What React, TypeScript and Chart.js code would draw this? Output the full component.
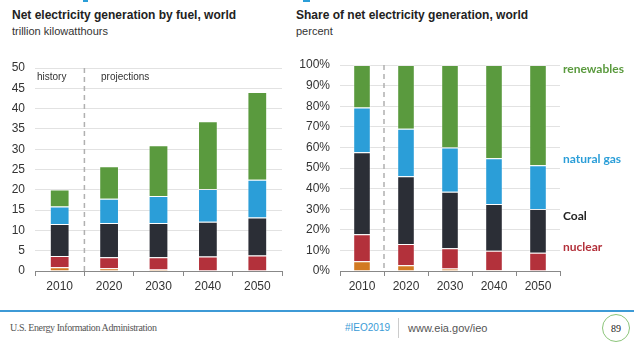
import React, { useEffect, useRef } from "react";
import { Chart, registerables } from "chart.js";

Chart.register(...registerables);

const years = ["2010", "2020", "2030", "2040", "2050"];
const seriesNames = ["liquids", "nuclear", "Coal", "natural gas", "renewables"];
const seriesColors = ["#d27a22", "#b3313b", "#2b2e36", "#2b9ed8", "#5a9a3e"];

// trillion kilowatthours
const liquidsTwh = [0.9, 0.7, 0.4, 0.15, 0.1];
const nuclearTwh = [2.8, 2.7, 3.0, 3.45, 3.7];
const coalTwh = [7.9, 8.4, 8.4, 8.5, 9.4];
const gasTwh = [4.3, 6.0, 6.7, 8.1, 9.3];
const renewTwh = [4.2, 8.0, 12.5, 16.7, 21.6];

// percent share
const liquidsPct = [4.7, 2.8, 1.2, 0.4, 0.2];
const nuclearPct = [13.1, 10.3, 9.8, 9.4, 8.7];
const coalPct = [39.8, 32.9, 27.5, 22.7, 21.2];
const gasPct = [21.8, 23.0, 21.4, 22.2, 21.2];
const renewPct = [20.6, 31.0, 40.1, 45.3, 48.7];

const leftTicks = [0, 5, 10, 15, 20, 25, 30, 35, 40, 45, 50];
const rightTicks = [0, 10, 20, 30, 40, 50, 60, 70, 80, 90, 100];

const dashedDivider = {
  id: "dashedDivider",
  beforeDatasetsDraw(chart: any) {
    const x = chart.scales.x;
    const area = chart.chartArea;
    const px = (x.getPixelForValue(0) + x.getPixelForValue(1)) / 2;
    const ctx = chart.ctx;
    ctx.save();
    ctx.strokeStyle = "#b0b0b0";
    ctx.lineWidth = 1.5;
    ctx.setLineDash([5, 4]);
    ctx.beginPath();
    ctx.moveTo(px, area.top);
    ctx.lineTo(px, area.bottom);
    ctx.stroke();
    ctx.restore();
  },
};

function makeConfig(
  data: number[][],
  max: number,
  tickVals: number[],
  yWidth: number,
  padding: any,
  fmt: (v: number) => string,
  xHeight: number
): any {
  return {
    type: "bar",
    data: {
      labels: years,
      datasets: data.map((d, i) => ({
        label: seriesNames[i],
        data: d,
        backgroundColor: seriesColors[i],
        borderColor: "rgba(255,255,255,0.35)",
        borderWidth: 1,
        barPercentage: 0.4,
        categoryPercentage: 1,
      })),
    },
    options: {
      responsive: false,
      animation: false,
      devicePixelRatio: 1,
      layout: { padding },
      plugins: { legend: { display: false }, tooltip: { enabled: false } },
      scales: {
        x: {
          stacked: true,
          grid: {
            display: true,
            drawOnChartArea: false,
            drawTicks: true,
            tickLength: 5,
            color: "#888",
            offset: true,
          },
          border: { display: true, color: "#888", width: 1 },
          ticks: {
            color: "#333",
            font: { family: "Liberation Sans, Arial, sans-serif", size: 12 },
            padding: 3,
          },
          afterFit(s: any) {
            s.height = xHeight;
          },
        },
        y: {
          stacked: true,
          min: 0,
          max,
          afterBuildTicks(s: any) {
            s.ticks = tickVals.map((v) => ({ value: v }));
          },
          grid: { color: "#e2e2e2", drawTicks: false, lineWidth: 1 },
          border: { display: false },
          ticks: {
            color: "#333",
            font: { family: "Liberation Sans, Arial, sans-serif", size: 12 },
            padding: 10,
            callback: (v: any) => fmt(Number(v)),
          },
          afterFit(s: any) {
            s.width = yWidth;
          },
        },
      },
    },
    plugins: [dashedDivider],
  };
}

function BarChart(props: {
  data: number[][];
  max: number;
  tickVals: number[];
  yWidth: number;
  padding: any;
  fmt: (v: number) => string;
  width: number;
  height: number;
  xHeight: number;
}) {
  const ref = useRef<HTMLCanvasElement | null>(null);
  useEffect(() => {
    if (!ref.current) return;
    const c = new Chart(
      ref.current,
      makeConfig(props.data, props.max, props.tickVals, props.yWidth, props.padding, props.fmt, props.xHeight)
    );
    return () => c.destroy();
  }, []);
  return (
    <canvas
      ref={ref}
      width={props.width}
      height={props.height}
      style={{ width: props.width, height: props.height, display: "block" }}
    />
  );
}

const sans = "'Liberation Sans', Arial, sans-serif";
const lato = "Lato, 'Open Sans', sans-serif";

export default function App() {
  const label = (text: string, top: number, color: string) => (
    <div
      style={{
        position: "absolute",
        left: 563,
        top: top - 8,
        fontFamily: lato,
        fontWeight: 700,
        fontSize: 12,
        lineHeight: "16px",
        color,
        whiteSpace: "nowrap",
      }}
    >
      {text}
    </div>
  );
  return (
    <div
      style={{
        position: "fixed",
        left: 0,
        top: 0,
        width: 640,
        height: 354,
        background: "#fff",
        overflow: "hidden",
        fontFamily: sans,
      }}
    >
      <div style={{ position: "absolute", left: 83, top: 0, width: 5, height: 2, background: "#2b9ed8" }} />
      <div style={{ position: "absolute", left: 303, top: 0, width: 7, height: 2, background: "#2b9ed8" }} />

      <div style={{ position: "absolute", left: 12, top: 7, fontSize: 12, fontWeight: 700, color: "#222", whiteSpace: "nowrap", lineHeight: "16px" }}>
        Net electricity generation by fuel, world
      </div>
      <div style={{ position: "absolute", left: 12, top: 23, fontSize: 11, color: "#333", whiteSpace: "nowrap", lineHeight: "16px" }}>
        trillion kilowatthours
      </div>
      <div style={{ position: "absolute", left: 296, top: 7, fontSize: 12, fontWeight: 700, color: "#222", whiteSpace: "nowrap", lineHeight: "16px" }}>
        Share of net electricity generation, world
      </div>
      <div style={{ position: "absolute", left: 296, top: 23, fontSize: 11, color: "#333", whiteSpace: "nowrap", lineHeight: "16px" }}>
        percent
      </div>

      <div style={{ position: "absolute", left: 0, top: 40 }}>
        <BarChart
          data={[liquidsTwh, nuclearTwh, coalTwh, gasTwh, renewTwh]}
          max={50}
          tickVals={leftTicks}
          yWidth={35}
          padding={{ left: 0, top: 28, right: 8, bottom: 0 }}
          fmt={(v) => String(v)}
          width={290}
          height={260}
          xHeight={29}
        />
      </div>
      <div style={{ position: "absolute", left: 37, top: 71, fontSize: 10, color: "#333", lineHeight: "12px" }}>history</div>
      <div style={{ position: "absolute", left: 101, top: 71, fontSize: 10, color: "#333", lineHeight: "12px" }}>projections</div>

      <div style={{ position: "absolute", left: 290, top: 40 }}>
        <BarChart
          data={[liquidsPct, nuclearPct, coalPct, gasPct, renewPct]}
          max={100}
          tickVals={rightTicks}
          yWidth={50}
          padding={{ left: 0, top: 25, right: 80, bottom: 0 }}
          fmt={(v) => v + "%"}
          width={350}
          height={260}
          xHeight={29}
        />
      </div>
      {label("renewables", 69, "#5a9a3e")}
      {label("natural gas", 159, "#2b9ed8")}
      {label("Coal", 216, "#222")}
      {label("nuclear", 247, "#b3313b")}

      <div style={{ position: "absolute", left: 0, top: 310, width: 634, height: 2, background: "#3d9ad6" }} />
      <div
        style={{
          position: "absolute",
          left: 10,
          top: 321,
          fontFamily: "'Liberation Serif', 'DejaVu Serif', serif",
          fontSize: 10,
          letterSpacing: -0.4,
          color: "#555",
          lineHeight: "14px",
          whiteSpace: "nowrap",
        }}
      >
        U.S. Energy Information Administration
      </div>
      <div style={{ position: "absolute", left: 345, top: 321, fontSize: 10, color: "#3a9bd6", lineHeight: "14px" }}>#IEO2019</div>
      <div style={{ position: "absolute", left: 398, top: 318, width: 1, height: 20, background: "#ccc" }} />
      <div style={{ position: "absolute", left: 408, top: 321, fontSize: 11, color: "#555", lineHeight: "14px" }}>www.eia.gov/ieo</div>
      <div
        style={{
          position: "absolute",
          left: 602,
          top: 314,
          width: 28,
          height: 28,
          boxSizing: "border-box",
          borderRadius: "50%",
          border: "1.5px solid #8cc57a",
          display: "flex",
          alignItems: "center",
          justifyContent: "center",
          fontSize: 10,
          color: "#222",
          fontFamily: "'Liberation Serif', serif",
        }}
      >
        89
      </div>
    </div>
  );
}
